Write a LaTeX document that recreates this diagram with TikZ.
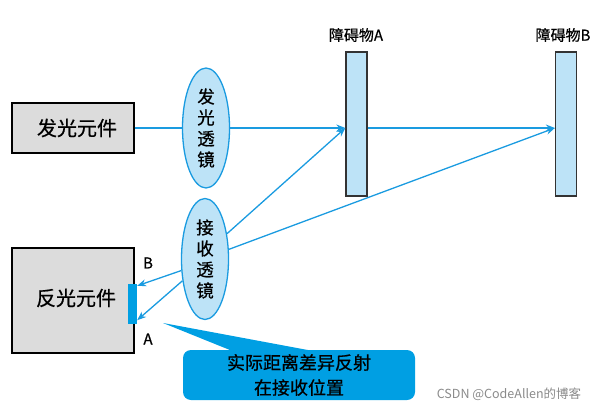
\documentclass[tikz,border=0pt]{standalone}
\usepackage{fontspec}
\setmainfont{Noto Sans CJK SC}
\newfontfamily\handfont{Noto Sans CJK SC}[FakeBold=0.7]
\usetikzlibrary{arrows.meta,shapes.geometric,calc}
\definecolor{lineblue}{HTML}{1A9BE0}
\definecolor{lensfill}{HTML}{BDE3F7}
\definecolor{callblue}{HTML}{009FE3}
\definecolor{boxgray}{HTML}{DCDCDC}
\definecolor{wmgray}{HTML}{8A8A8A}
\tikzset{
  elem/.style={draw=black, line width=1.4pt, fill=boxgray, minimum width=122pt, inner sep=0pt},
  elemtext/.style={font=\handfont\fontsize{20}{20}\selectfont, inner sep=0pt},
  lensnode/.style={ellipse, draw=lineblue, line width=1.3pt, fill=lensfill, minimum width=47pt, inner sep=0pt, font=\handfont\fontsize{17.5}{21}\selectfont, align=center},
  obst/.style={draw=black!80, line width=1.3pt, fill=lensfill, minimum width=21pt, minimum height=144pt, inner sep=0pt},
  ray/.style={draw=lineblue, line width=1.3pt},
  rayarrow/.style={ray, -{Stealth[length=9pt,width=7pt]}},
  lbl/.style={font=\handfont\fontsize{15}{15}\selectfont, inner sep=0pt},
  ablbl/.style={font=\handfont\fontsize{15}{15}\selectfont, inner sep=0pt},
  callout/.style={fill=callblue, rounded corners=8pt, minimum width=232pt, minimum height=50pt, inner sep=0pt, align=center, font=\handfont\fontsize{18}{25}\selectfont},
}
\begin{document}
\begin{tikzpicture}[x=1pt,y=-1pt]
\useasboundingbox (0,0) rectangle (605,412);
% elements
\node[elem, minimum height=50pt] (emitter) at (73,128) {};
\node[elemtext] (emittertext) at (77,128) {发光元件};
\node[elem, minimum height=105pt] (reflector) at (73,300.5) {};
\node[elemtext] (reflectortext) at (76,298) {反光元件};
% lenses
\node[lensnode, minimum height=120pt] (tlens) at (206,128) {发\\光\\透\\镜};
\node[lensnode, minimum height=121pt] (rlens) at (205,259) {接\\收\\透\\镜};
% obstacles
\node[obst] (obsA) at (356.5,124) {};
\node[obst] (obsB) at (566,124) {};
\node[lbl] (labA) at (356,35) {障碍物A};
\node[lbl] (labB) at (563,35) {障碍物B};
% receiving bar
\node[fill=callblue, minimum width=9pt, minimum height=40pt, inner sep=0pt] (bar) at (132.5,304) {};
\node[ablbl] (labelB) at (148,263) {B};
\node[ablbl] (labelA) at (148,339) {A};
% rays
\draw[ray] (emitter.east) -- (tlens.west);
\draw[rayarrow] (tlens.east) -- (obsA.west |- emitter.east);
\draw[rayarrow] (obsA.east |- emitter.east) -- (obsB.west |- emitter.east);
\draw[rayarrow] (rlens.49) -- (obsA.west |- emitter.east);
\draw[rayarrow] (rlens.22) -- (obsB.west |- emitter.east);
\draw[rayarrow] (rlens.206) -- ([yshift=-2pt]bar.north east);
\draw[rayarrow] (rlens.224) -- ([yshift=4pt]bar.south east);
% callout
\node[callout] (note) at (299,375) {实际距离差异反射\\在接收位置};
\coordinate (tip) at (163,323);
\fill[callblue] (tip) -- ($(note.north west)+(54,3)$) -- ($(note.north west)+(140,3)$) -- cycle;
% watermark
\node[font=\fontsize{12.5}{12.5}\selectfont, text=wmgray, inner sep=0pt] (wm) at (509,394) {CSDN @CodeAllen的博客};
\end{tikzpicture}
\end{document}
